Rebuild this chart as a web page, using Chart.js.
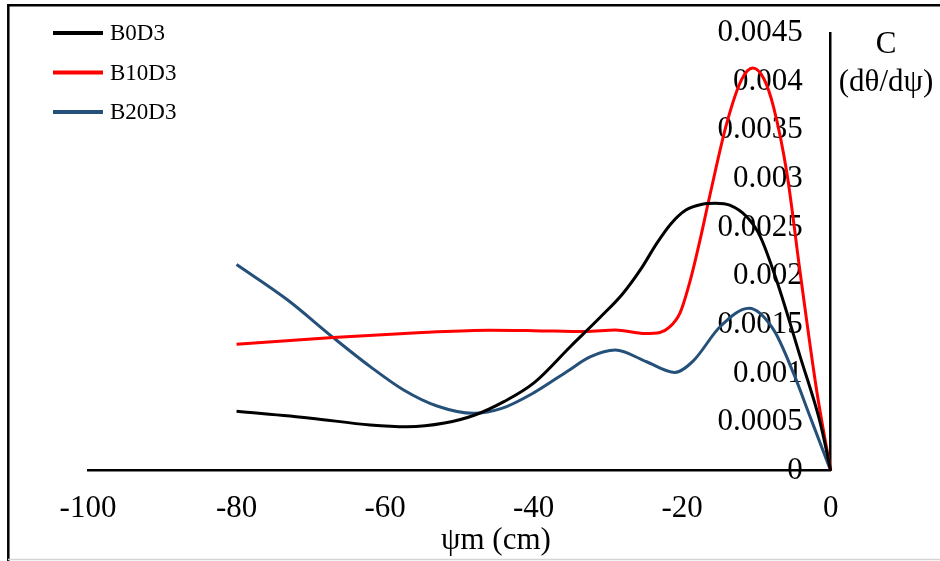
<!DOCTYPE html>
<html>
<head>
<meta charset="utf-8">
<script src="https://cdn.jsdelivr.net/npm/chart.js@4/dist/chart.umd.min.js"></script>
<style>
  html, body { margin: 0; padding: 0; background: #fff; }
  #wrap { width: 940px; height: 561px; position: relative; }
</style>
</head>
<body>
<div id="wrap"><canvas id="c" width="940" height="561"></canvas></div>
<script>
// Moisture capacity C = dθ/dψ against matric suction ψm (cm)
const seriesNames = ['B0D3', 'B10D3', 'B20D3'];
const seriesColors = ['#000000', '#ff0000', '#25507a'];

const b0d3Psi = [-80, -70, -62, -57, -52, -48, -44, -40, -35, -31, -28, -25.5, -23.4, -21.5, -19.5, -17.3, -15.5, -13.6, -11.3, -9.5, -7.3, -4.1, -1.4, 0];
const b0d3C   = [0.00061, 0.00054, 0.00047, 0.000452, 0.00049, 0.00057, 0.00071, 0.0009, 0.00128, 0.00158, 0.00182, 0.00208, 0.00234, 0.00254, 0.00268, 0.00274, 0.00275, 0.00273, 0.00261, 0.00241, 0.00196, 0.00117, 0.00049, 0];

const b10d3Psi = [-80, -67, -55, -46, -40, -33, -29, -25, -23, -21.8, -20.3, -18.9, -17.6, -16.3, -14, -12, -10.5, -9, -7.7, -5.9, -4.1, -1.9, 0];
const b10d3C   = [0.0013, 0.00137, 0.00142, 0.001445, 0.00144, 0.00143, 0.001447, 0.00141, 0.00142, 0.00147, 0.00162, 0.00196, 0.00237, 0.00282, 0.00357, 0.00402, 0.00414, 0.00403, 0.00374, 0.00306, 0.00203, 0.00083, 0];

const b20d3Psi = [-80, -73.2, -67, -62, -57.5, -53, -48.1, -44.3, -40, -35.5, -32.4, -29, -24.8, -21, -18.5, -14.9, -11, -7.7, -5, -2.8, 0];
const b20d3C   = [0.00212, 0.00176, 0.00137, 0.00107, 0.00083, 0.000665, 0.00059, 0.00064, 0.0008, 0.00102, 0.00117, 0.00124, 0.00112, 0.00101, 0.00113, 0.00148, 0.00167, 0.00145, 0.001, 0.00056, 0];

const xTicks = [-100, -80, -60, -40, -20, 0];
const yTicks = [0, 0.0005, 0.001, 0.0015, 0.002, 0.0025, 0.003, 0.0035, 0.004, 0.0045];

const xTitle = 'ψm (cm)';
const yTitleLines = ['C', '(dθ/dψ)'];

const SERIF = "'Liberation Serif', 'Times New Roman', serif";

function toPoints(xs, ys) { return xs.map((x, i) => ({ x: x, y: ys[i] })); }

const allPsi = [b0d3Psi, b10d3Psi, b20d3Psi];
const allC = [b0d3C, b10d3C, b20d3C];

const datasets = seriesNames.map((name, i) => ({
  label: name,
  data: toPoints(allPsi[i], allC[i]),
  borderColor: seriesColors[i],
  backgroundColor: seriesColors[i],
  borderWidth: 3,
  pointRadius: 0,
  cubicInterpolationMode: 'monotone',
  fill: false,
  clip: 4,
  yAxisID: 'y'
}));

function noScalePadding(scale) {
  scale.paddingTop = 0;
  scale.paddingBottom = 0;
  scale.paddingLeft = 0;
  scale.paddingRight = 0;
}

// frame, legend and axis titles drawn on the canvas
const decorations = {
  id: 'decorations',
  beforeDraw(chart) {
    const ctx = chart.ctx;
    ctx.save();
    ctx.fillStyle = '#fff';
    ctx.fillRect(0, 0, chart.width, chart.height);
    ctx.strokeStyle = '#000';
    ctx.lineWidth = 2.5;
    ctx.beginPath();
    ctx.moveTo(8.3, 561);
    ctx.lineTo(8.3, 5.3);
    ctx.lineTo(940, 5.3);
    ctx.stroke();
    ctx.strokeStyle = '#d4d4d4';
    ctx.lineWidth = 1.5;
    ctx.beginPath();
    ctx.moveTo(8, 559.5);
    ctx.lineTo(940, 559.5);
    ctx.stroke();
    ctx.restore();
  },
  afterDraw(chart) {
    const ctx = chart.ctx;
    ctx.save();
    // legend
    ctx.font = '23px ' + SERIF;
    ctx.textBaseline = 'middle';
    ctx.textAlign = 'left';
    chart.data.datasets.forEach((ds, i) => {
      const y = 33 + i * 39.5;
      ctx.strokeStyle = ds.borderColor;
      ctx.lineWidth = 4;
      ctx.beginPath();
      ctx.moveTo(53, y);
      ctx.lineTo(103, y);
      ctx.stroke();
      ctx.fillStyle = '#000';
      ctx.fillText(ds.label, 110, y + 1);
    });
    // axis titles
    ctx.font = '31px ' + SERIF;
    ctx.textAlign = 'center';
    ctx.fillStyle = '#000';
    ctx.fillText(xTitle, 496, 541);
    ctx.fillText(yTitleLines[0], 886, 45);
    ctx.fillText(yTitleLines[1], 886, 83);
    ctx.restore();
  }
};

const tickFont = { family: SERIF, size: 31 };

new Chart(document.getElementById('c'), {
  type: 'line',
  data: { datasets: datasets },
  plugins: [decorations],
  options: {
    responsive: false,
    animation: false,
    devicePixelRatio: 1,
    layout: { padding: { left: 88, right: 109.3, top: 33, bottom: 0 } },
    plugins: { legend: { display: false }, tooltip: { enabled: false } },
    scales: {
      x: {
        type: 'linear',
        position: 'bottom',
        min: -100,
        max: 0,
        afterBuildTicks(scale) { scale.ticks = xTicks.map(v => ({ value: v })); },
        afterFit(scale) { scale.height = 90.3; noScalePadding(scale); },
        grid: { display: false, drawTicks: false },
        border: { display: true, color: '#000', width: 2.5 },
        ticks: {
          padding: 20,
          color: '#000',
          font: tickFont,
          maxRotation: 0,
          callback: v => String(v)
        }
      },
      // value axis line, standing at ψm = 0
      y: {
        type: 'linear',
        position: { x: 0 },
        min: 0,
        max: 0.0045,
        afterBuildTicks(scale) { scale.ticks = yTicks.map(v => ({ value: v })); },
        afterFit(scale) { noScalePadding(scale); },
        grid: { display: false, drawTicks: false },
        border: { display: true, color: '#000', width: 2.5 },
        ticks: { display: false }
      },
      // tick labels of the value axis, set just left of the axis line
      yLabels: {
        type: 'linear',
        position: { x: -3.77 },
        min: 0,
        max: 0.0045,
        afterBuildTicks(scale) { scale.ticks = yTicks.map(v => ({ value: v })); },
        afterFit(scale) { noScalePadding(scale); },
        grid: { display: false, drawTicks: false },
        border: { display: false },
        ticks: {
          color: '#000',
          font: tickFont,
          callback: v => String(+Number(v).toFixed(4))
        }
      }
    }
  }
});
</script>
</body>
</html>
